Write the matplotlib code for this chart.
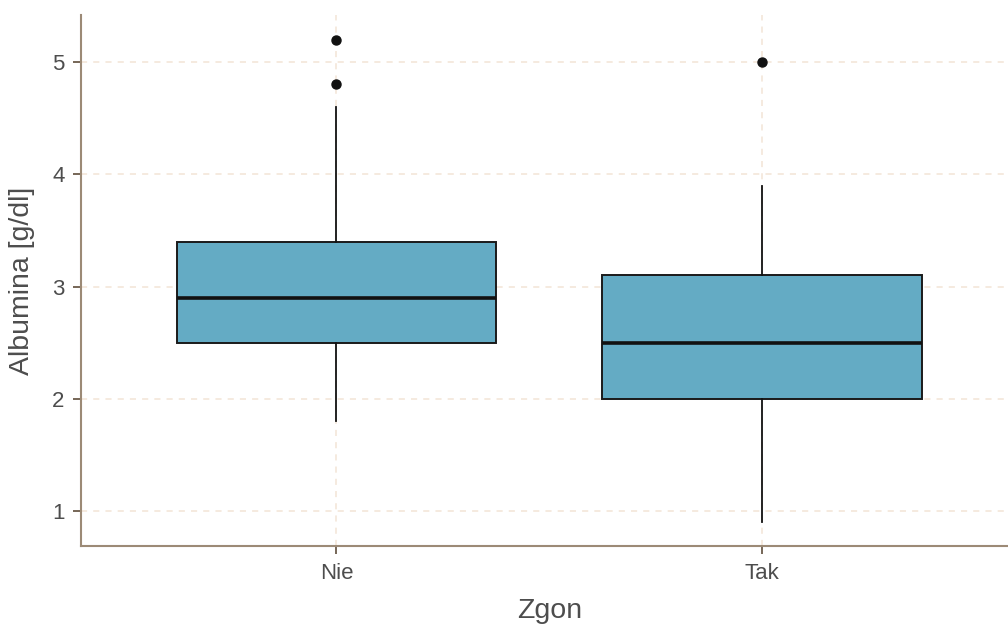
import matplotlib
matplotlib.use("Agg")
import matplotlib.pyplot as plt

# Albumin summary per outcome group
groups = ["Nie", "Tak"]
q1 = [2.5, 2.0]
median = [2.9, 2.5]
q3 = [3.4, 3.1]
whisker_low = [1.8, 0.9]
whisker_high = [4.6, 3.9]
outliers = [[4.8, 5.2], [5.0]]
y_ticks = [1, 2, 3, 4, 5]

plt.rcParams["font.family"] = ["Liberation Sans", "DejaVu Sans"]

fig = plt.figure(figsize=(10.08, 6.28), dpi=100)
ax = fig.add_axes([0.0804, 0.1299, 0.929, 0.8455])

stats = []
for i, g in enumerate(groups):
    stats.append(dict(label=g, q1=q1[i], med=median[i], q3=q3[i],
                      whislo=whisker_low[i], whishi=whisker_high[i],
                      fliers=outliers[i]))

positions = list(range(1, len(groups) + 1))
ax.bxp(stats, positions=positions, widths=0.75, patch_artist=True,
       showcaps=False,
       boxprops=dict(facecolor="#64abc4", edgecolor="#1a1a1a", linewidth=1.4),
       medianprops=dict(color="#111111", linewidth=2.6),
       whiskerprops=dict(color="#111111", linewidth=1.3),
       flierprops=dict(marker="o", markerfacecolor="#111111",
                       markeredgecolor="#111111", markersize=6.5),
       zorder=3)

ax.set_xlim(0.4, 2.6)
ax.set_ylim(0.685, 5.415)
ax.set_xticks(positions)
ax.set_xticklabels(groups)
ax.set_yticks(y_ticks)

ax.grid(True, linestyle=(0, (4, 4)), color="#f3e4d6", linewidth=1.1, zorder=0)
ax.set_axisbelow(True)

for s in ["top", "right"]:
    ax.spines[s].set_visible(False)
for s in ["left", "bottom"]:
    ax.spines[s].set_color("#9c8a76")
    ax.spines[s].set_linewidth(1.5)

ax.tick_params(axis="both", length=6, width=1.3, color="#6b5a4a",
               labelsize=16, labelcolor="#4d4d4d", pad=6)

ax.set_xlabel("Zgon", fontsize=20.5, color="#4d4d4d", labelpad=10)
ax.set_ylabel("Albumina [g/dl]", fontsize=20.5, color="#4d4d4d", labelpad=12)

fig.savefig("out.png", dpi=100)
